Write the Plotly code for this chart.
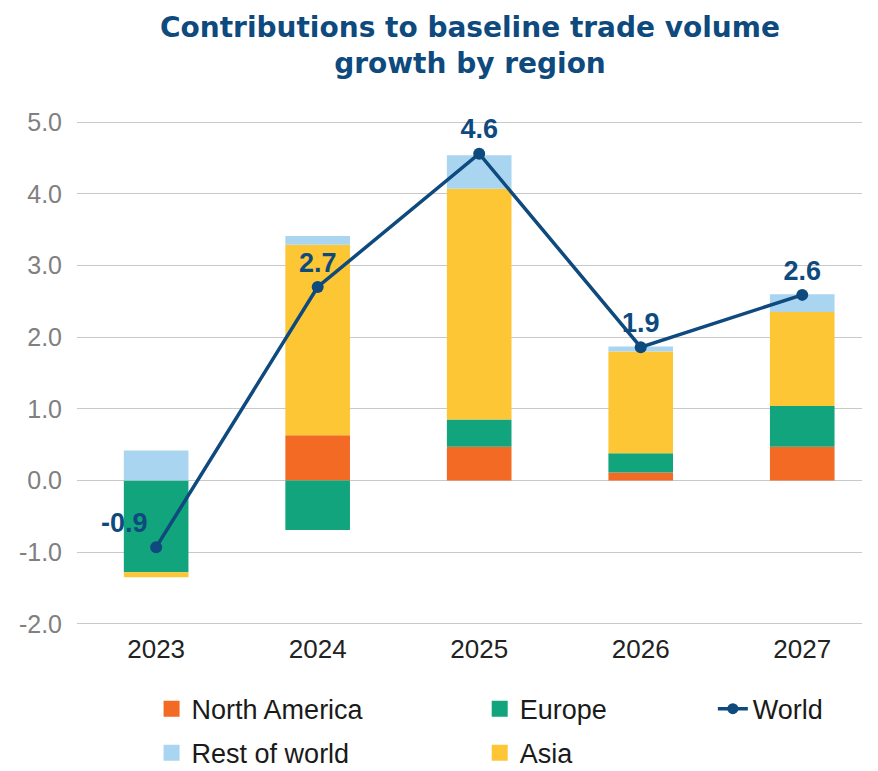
import plotly.graph_objects as go

years = ["2023", "2024", "2025", "2026", "2027"]
north_america = [0.0, 0.63, 0.47, 0.11, 0.47]
europe = [-1.28, -0.69, 0.38, 0.27, 0.57]
asia = [-0.07, 2.66, 3.22, 1.42, 1.31]
rest_of_world = [0.42, 0.12, 0.47, 0.07, 0.25]
world = [-0.93, 2.70, 4.56, 1.86, 2.59]
y_ticks = [-2, -1, 0, 1, 2, 3, 4, 5]
y_ticktext = [f"{v:.1f}" for v in y_ticks]
world_text = [f"{v:.1f}" for v in world]

C_NA = "#F26A24"
C_EU = "#12A47D"
C_AS = "#FDC635"
C_RW = "#A9D5F0"
C_WD = "#0E4A7E"
FONT = "Liberation Sans"

fig = go.Figure()
for name, vals, col in [("North America", north_america, C_NA),
                        ("Europe", europe, C_EU),
                        ("Asia", asia, C_AS),
                        ("Rest of world", rest_of_world, C_RW)]:
    fig.add_trace(go.Bar(x=years, y=vals, name=name, marker=dict(color=col, line=dict(width=0)),
                         width=0.4, showlegend=False, hoverinfo="y+name"))

fig.add_trace(go.Scatter(x=years, y=world, name="World", mode="lines+markers+text",
                         line=dict(color=C_WD, width=3.5), marker=dict(color=C_WD, size=12),
                         text=world_text,
                         textposition=["top left", "top center", "top center", "top center", "top center"],
                         textfont=dict(family=FONT, size=27, color=C_WD, weight="bold"),
                         cliponaxis=False, showlegend=False))

def leg(name, col, legend, kind="sq"):
    if kind == "sq":
        fig.add_trace(go.Scatter(x=[None], y=[None], mode="markers", name=name, legend=legend,
                                 legendgroup=name,
                                 marker=dict(symbol="square", size=20, color=col)))
    else:
        fig.add_trace(go.Scatter(x=[None], y=[None], mode="lines+markers", name=name, legend=legend,
                                 legendgroup=name,
                                 line=dict(color=col, width=3.5), marker=dict(color=col, size=11)))

leg("North America", C_NA, "legend")
leg("Rest of world", C_RW, "legend")
leg("Europe", C_EU, "legend2")
leg("Asia", C_AS, "legend2")
leg("World", C_WD, "legend3", kind="line")

legfont = dict(family=FONT, size=27, color="#1a1a1a")
legcommon = dict(orientation="v", yanchor="top", y=-0.104, xanchor="left", font=legfont,
                 bgcolor="rgba(0,0,0,0)", tracegroupgap=6, itemsizing="trace")

fig.update_layout(
    width=878, height=771,
    paper_bgcolor="white", plot_bgcolor="white",
    margin=dict(l=69, r=24, t=107, b=148, autoexpand=False),
    barmode="relative",
    xaxis=dict(range=[-0.49, 4.37], showgrid=False, showline=False, ticks="",
               tickfont=dict(family=FONT, size=26, color="#222222")),
    yaxis=dict(range=[-2.1, 5.1], tickvals=y_ticks, ticktext=y_ticktext,
               showgrid=True, gridcolor="#c9c9c9", gridwidth=1,
               zeroline=True, zerolinecolor="#c9c9c9", zerolinewidth=1,
               showline=False, ticks="", ticklabelstandoff=14,
               tickfont=dict(family=FONT, size=25, color="#808080")),
    legend=dict(legcommon, x=0.095),
    legend2=dict(legcommon, x=0.513),
    legend3=dict(legcommon, x=0.81),
    font=dict(family=FONT),
    annotations=[dict(text="<b>Contributions to baseline trade volume<br>growth by region</b>",
                      xref="paper", yref="paper", x=0.5, y=(516 + 107 - 1) / 516,
                      xanchor="center", yanchor="top", showarrow=False,
                      font=dict(family="DejaVu Sans", size=28, color=C_WD))],
)

fig.write_html("out.html")
